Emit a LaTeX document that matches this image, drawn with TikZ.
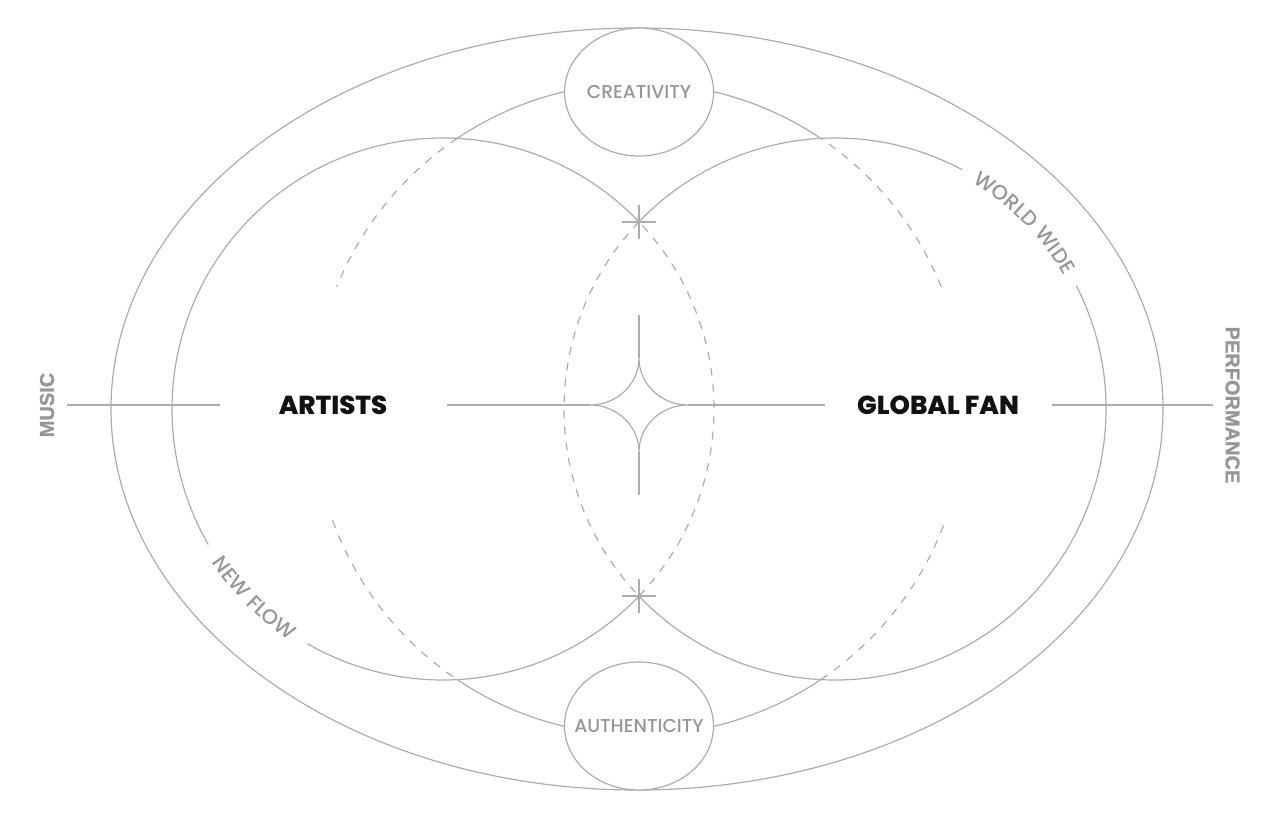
\documentclass[tikz,border=0pt]{standalone}
\usepackage{fontspec}
\setmainfont{Poppins}
\newfontfamily\flankfont{Liberation Sans Bold}[FakeBold=1.2]
\newfontfamily\softfont{Poppins Medium}
\newfontfamily\heavyfont{Poppins ExtraBold}
\newfontfamily\arcfont{Poppins Medium}[LetterSpace=7]
\usetikzlibrary{shapes.geometric,decorations.text}
\definecolor{linegray}{RGB}{172,172,172}
\definecolor{textgray}{RGB}{150,150,150}
\definecolor{inkblack}{RGB}{17,17,17}

\tikzstyle{bubble}=[ellipse,draw=linegray,fill=white,minimum width=111.75pt,minimum height=96pt,inner sep=0pt,text=textgray,font=\softfont\fontsize{14}{16}\selectfont]
\tikzstyle{hub}=[inner sep=0pt,text=inkblack,font=\heavyfont\fontsize{19.5}{22}\selectfont]
\tikzstyle{flank}=[inner sep=0pt,text=textgray,font=\flankfont\fontsize{15}{18}\selectfont]
\tikzstyle{lens}=[dash pattern=on 6pt off 6pt]

\begin{document}
\begin{tikzpicture}[x=0.75pt,y=0.75pt,line width=0.9pt,color=linegray]
\useasboundingbox (-639,-410) rectangle (641,409);
%\draw[help lines,step=50] (-639,-410) grid (641,409);
\draw (-2,0) ellipse [x radius=526,y radius=381];
% ring through the two bubbles
\draw (0,0) ++(56.1:326) arc[start angle=56.1,end angle=123.9,radius=326];
\draw (0,0) ++(236.1:326) arc[start angle=236.1,end angle=303.9,radius=326];
\draw[lens] (0,0) ++(123.9:326) arc[start angle=123.9,end angle=158,radius=326];
\draw[lens] (0,0) ++(22:326) arc[start angle=22,end angle=56.1,radius=326];
\draw[lens] (0,0) ++(200:326) arc[start angle=200,end angle=236.1,radius=326];
\draw[lens] (0,0) ++(303.9:326) arc[start angle=303.9,end angle=340,radius=326];
% left circle
\draw (-196,0) ++(43.67:271) arc[start angle=43.67,end angle=210,radius=271];
\draw (-196,0) ++(240:271) arc[start angle=240,end angle=316.33,radius=271];
\draw[lens] (-196,0) ++(-43.67:271) arc[start angle=-43.67,end angle=43.67,radius=271];
% right circle
\draw (196,0) ++(136.33:271) arc[start angle=136.33,end angle=62,radius=271];
\draw (196,0) ++(27:271) arc[start angle=27,end angle=-136.33,radius=271];
\draw[lens] (196,0) ++(136.33:271) arc[start angle=136.33,end angle=223.67,radius=271];
% curved labels
\path[decorate,decoration={text along path,text align=center,text color=textgray,
  text={|\arcfont\fontsize{15.5}{18}\selectfont|WORLD WIDE}}]
  (196,0) ++(64:265) arc[start angle=64,end angle=25,radius=265];
\path[decorate,decoration={text along path,text align=center,text color=textgray,
  text={|\arcfont\fontsize{15.5}{18}\selectfont|NEW FLOW}}]
  (-196,0) ++(205:277.5) arc[start angle=205,end angle=245,radius=277.5];

\node[bubble] (cre) at (0,317) {\makebox[0pt]{CREATIVITY}};
\node[bubble] (aut) at (0,-317) {\makebox[0pt]{AUTHENTICITY}};
\node[hub] (art) at (-306,4) {ARTISTS};
\node[hub] (fan) at (299,4) {GLOBAL FAN};
\node[flank,rotate=90] (mus) at (-592,4) {MUSIC};
\node[flank,rotate=-90] (per) at (593.5,4) {PERFORMANCE};

% star in the middle
\coordinate (st) at (0,51);
\coordinate (sr) at (49,4);
\coordinate (sb) at (0,-43);
\coordinate (sl) at (-49,4);
\coordinate (pt) at (0,94);
\coordinate (pb) at (0,-86);
\draw (st) to[out=-90,in=180] (sr) to[out=180,in=90] (sb)
      to[out=90,in=0] (sl) to[out=0,in=-90] (st);
\draw (pt) -- (st) (sb) -- (pb);
% crossings of the circles
\coordinate (x1) at (0,187);
\coordinate (x2) at (0,-187);
\draw (x1) +(-17,0) -- +(17,0) +(0,-17) -- +(0,17)
      (x2) +(-17,0) -- +(17,0) +(0,-17) -- +(0,17);

\draw[shorten <=9pt,shorten >=43.5pt] (mus.south) -- (art.west);
\draw[shorten <=44.25pt] (art.east) -- (sl);
\draw[shorten >=23.25pt] (sr) -- (fan.west);
\draw[shorten <=24pt,shorten >=9pt] (fan.east) -- (per.south);
\end{tikzpicture}
\end{document}
